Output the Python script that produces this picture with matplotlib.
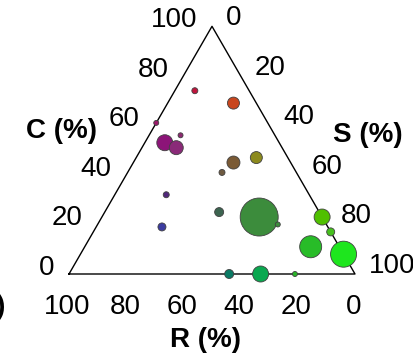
import numpy as np
import matplotlib
matplotlib.use("Agg")
import matplotlib.pyplot as plt

plt.rcParams['font.family'] = ['Liberation Sans', 'DejaVu Sans']

# CSR composition (%) of each point
C_vals = [74, 69, 61, 53, 51, 56, 45, 47, 41, 32, 19, 25, 23, 20, 0, 0, 0, 23, 17, 11, 8]
S_vals = [7, 23, 0, 7, 12, 11, 35, 42, 33, 18, 23, 40, 55, 63, 56, 67, 79, 77, 83, 79, 92]
R_vals = [19, 8, 39, 40, 37, 33, 20, 11, 26, 50, 58, 35, 22, 17, 44, 33, 21, 0, 0, 10, 0]
# bubble radius (px) representing abundance
radius = [3, 6, 2.5, 8, 7, 2.5, 6.5, 6, 3, 3, 4, 4.5, 19, 2.5, 4.5, 8, 2.5, 8, 4, 11, 13]
colors = ['#c0143c', '#c8461e', '#9a1a6a', '#8c1478', '#8a2a78', '#8c2a70', '#7a5a35',
          '#8c8a1e', '#6e5a40', '#50287a', '#3c3ca0', '#3c6450', '#3c8c3c', '#3c8c3c',
          '#0a7a64', '#0aa850', '#28b428', '#50c000', '#46c01e', '#28bc28', '#1ee61e']
ticks = [0, 20, 40, 60, 80, 100]

fig = plt.figure(figsize=(4.14, 3.58), dpi=100)
ax = fig.add_axes([0, 0, 1, 1])
ax.set_xlim(-69 / 286, (414 - 69) / 286)
ax.set_ylim((274 - 358) / 286, 274 / 286)
ax.axis('off')

h = np.sqrt(3) / 2
def to_xy(c, s, r):
    c = np.asarray(c, float) / 100
    s = np.asarray(s, float) / 100
    return s + 0.5 * c, c * h

# triangle
ax.plot([0, 1, 0.5, 0], [0, 0, h, 0], color='black', lw=1.0, zorder=1)

x, y = to_xy(C_vals, S_vals, R_vals)
sizes = [(2 * r * 0.72) ** 2 for r in radius]
ax.scatter(x, y, s=sizes, c=colors, edgecolors='#404040', linewidths=0.6, zorder=3)

fs = 20
for t in ticks:
    # C axis (left edge)
    cx, cy = to_xy(t, 0, 100 - t)
    ax.annotate(str(t), (cx, cy), xytext=(-10.8, 4.3), textcoords='offset points',
                ha='right', va='center', fontsize=fs)
    # S axis (right edge)
    sx, sy = to_xy(100 - t, t, 0)
    ax.annotate(str(t), (sx, sy), xytext=(10, 5.8), textcoords='offset points',
                ha='left', va='center', fontsize=fs)
    # R axis (bottom)
    rx, ry = to_xy(0, 100 - t, t)
    ax.annotate(str(t), (rx, ry), xytext=(-1, -24), textcoords='offset points',
                ha='center', va='center', fontsize=fs)

ax.text(-0.0245, 0.50, 'C (%)', ha='center', va='center', fontsize=20, fontweight='bold')
ax.text(1.0455, 0.486, 'S (%)', ha='center', va='center', fontsize=20, fontweight='bold')
ax.text(0.479, -0.231, 'R (%)', ha='center', va='center', fontsize=20, fontweight='bold')
ax.text((6 - 69) / 286, (274 - 307) / 286, '(b)', ha='right', va='center',
        fontsize=20, fontweight='bold')

fig.savefig('out.png', dpi=100)
